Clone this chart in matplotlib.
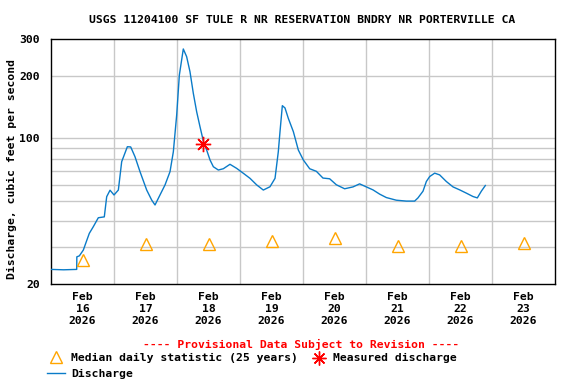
import matplotlib
matplotlib.use("Agg")
import matplotlib.pyplot as plt
from matplotlib.lines import Line2D

# ---- data (days since Feb 16 2026 00:00) ----
time_days = [0.0, 0.2, 0.408, 0.41, 0.45, 0.513, 0.56, 0.608, 0.672, 0.751, 0.846, 0.884,
             0.937, 1.0, 1.069, 1.122, 1.212, 1.265, 1.333, 1.413, 1.519, 1.598, 1.651,
             1.730, 1.810, 1.889, 1.942, 1.995, 2.037, 2.1, 2.153, 2.206, 2.259, 2.312,
             2.365, 2.418, 2.471, 2.524, 2.577, 2.656, 2.735, 2.841, 2.947, 3.053, 3.159,
             3.265, 3.370, 3.476, 3.556, 3.608, 3.635, 3.672, 3.714, 3.767, 3.847, 3.926,
             4.005, 4.106, 4.212, 4.317, 4.423, 4.529, 4.661, 4.794, 4.899, 5.005, 5.111,
             5.217, 5.323, 5.481, 5.640, 5.772, 5.825, 5.905, 5.958, 6.011, 6.090, 6.169,
             6.275, 6.381, 6.487, 6.593, 6.698, 6.767, 6.831, 6.894]
discharge = [23.5, 23.4, 23.5, 27.0, 27.3, 29.1, 31.9, 35.0, 37.7, 41.6, 42.0, 52.5,
             56.4, 53.5, 56.5, 77.3, 91.2, 91.0, 81.7, 69.2, 56.5, 50.6, 47.9,
             53.5, 59.8, 69.2, 86.3, 129.5, 201, 268.7, 246.8, 209, 164.6, 134.3,
             113.8, 97.1, 87.9, 78.8, 73.1, 70.5, 71.5, 75.1, 71.8, 68.0, 64.3,
             59.8, 56.5, 58.6, 64.3, 86.3, 107.7, 143.6, 140, 124.8, 107.7, 87.9,
             78.8, 71.5, 69.5, 64.5, 64.0, 59.9, 57.3, 58.5, 60.5, 58.5, 56.6,
             54.0, 52.0, 50.5, 50.0, 50.0, 51.8, 55.8, 62.1, 65.6, 68.1, 66.8,
             62.1, 58.5, 56.6, 54.6, 52.6, 51.8, 55.8, 59.4]

median_days = [0.5, 1.5, 2.5, 3.5, 4.5, 5.5, 6.5, 7.5]
median_values = [26.1, 31.1, 31.1, 32.3, 33.1, 30.4, 30.4, 31.3]

measured_days = [2.418]
measured_values = [93.8]

x_tick_labels = ["Feb\n16\n2026", "Feb\n17\n2026", "Feb\n18\n2026", "Feb\n19\n2026",
                 "Feb\n20\n2026", "Feb\n21\n2026", "Feb\n22\n2026", "Feb\n23\n2026"]
y_tick_values = [20, 100, 200, 300]
y_grid_values = [30, 40, 50, 60, 70, 80, 90, 100, 200]

FONT = "DejaVu Sans Mono"
FS = 8.2

fig = plt.figure(figsize=(5.76, 3.84), dpi=100)
ax = fig.add_axes([51/576, 1 - 284/384, 504/576, 245/384])
ax.set_yscale("log")
ax.set_xlim(0, 8)
ax.set_ylim(20, 300)

for g in y_grid_values:
    ax.axhline(g, color="#c8c8c8", lw=1.0, zorder=1)
for d in range(1, 8):
    ax.axvline(d, color="#c8c8c8", lw=1.0, zorder=1)

ax.plot(time_days, discharge, color="#0a7bc8", lw=1.0, zorder=3)
ax.plot(median_days, median_values, linestyle="none", marker="^", markersize=8,
        markerfacecolor="none", markeredgecolor="#ffa500", markeredgewidth=1.0, zorder=4)
ax.plot(measured_days, measured_values, linestyle="none", marker=(8, 2, 0), markersize=11,
        color="red", markeredgewidth=1.0, zorder=5)

ax.set_yticks(y_tick_values)
ax.set_yticklabels([str(v) for v in y_tick_values], fontfamily=FONT, fontweight="bold", fontsize=FS)
ax.yaxis.set_minor_locator(matplotlib.ticker.NullLocator())
ax.set_xticks(median_days)
ax.set_xticklabels(x_tick_labels, fontfamily=FONT, fontweight="bold", fontsize=FS, linespacing=1.2)
ax.tick_params(axis="both", length=0)
ax.tick_params(axis="x", pad=6)
ax.tick_params(axis="y", pad=8)
for s in ax.spines.values():
    s.set_linewidth(1.0)
    s.set_color("black")

ax.set_ylabel("Discharge, cubic feet per second", fontfamily=FONT, fontweight="bold",
              fontsize=FS, labelpad=6)
ax.yaxis.set_label_coords(-34/504, 0.47)

fig.text(302/576, 1 - 20/384, "USGS 11204100 SF TULE R NR RESERVATION BNDRY NR PORTERVILLE CA",
         ha="center", va="center", fontfamily=FONT, fontweight="bold", fontsize=FS)
fig.text(301/576, 1 - 344/384, "---- Provisional Data Subject to Revision ----",
         ha="center", va="center", fontfamily=FONT, fontweight="bold", fontsize=FS, color="red")

# legend entries
fig.add_artist(Line2D([56/576], [1 - 357/384], marker="^", markersize=8, markerfacecolor="none",
                      markeredgecolor="#ffa500", markeredgewidth=1.0, linestyle="none",
                      transform=fig.transFigure))
fig.text(71/576, 1 - 358/384, "Median daily statistic (25 years)", ha="left", va="center",
         fontfamily=FONT, fontweight="bold", fontsize=FS)
fig.add_artist(Line2D([319/576], [1 - 358/384], marker=(8, 2, 0), markersize=10, color="red",
                      markeredgewidth=1.0, linestyle="none", transform=fig.transFigure))
fig.text(333/576, 1 - 358/384, "Measured discharge", ha="left", va="center",
         fontfamily=FONT, fontweight="bold", fontsize=FS)
fig.add_artist(Line2D([47/576, 65/576], [1 - 373/384, 1 - 373/384], color="#0a7bc8", lw=1.0,
                      transform=fig.transFigure))
fig.text(71/576, 1 - 374/384, "Discharge", ha="left", va="center",
         fontfamily=FONT, fontweight="bold", fontsize=FS)

fig.savefig("out.png", dpi=100)
